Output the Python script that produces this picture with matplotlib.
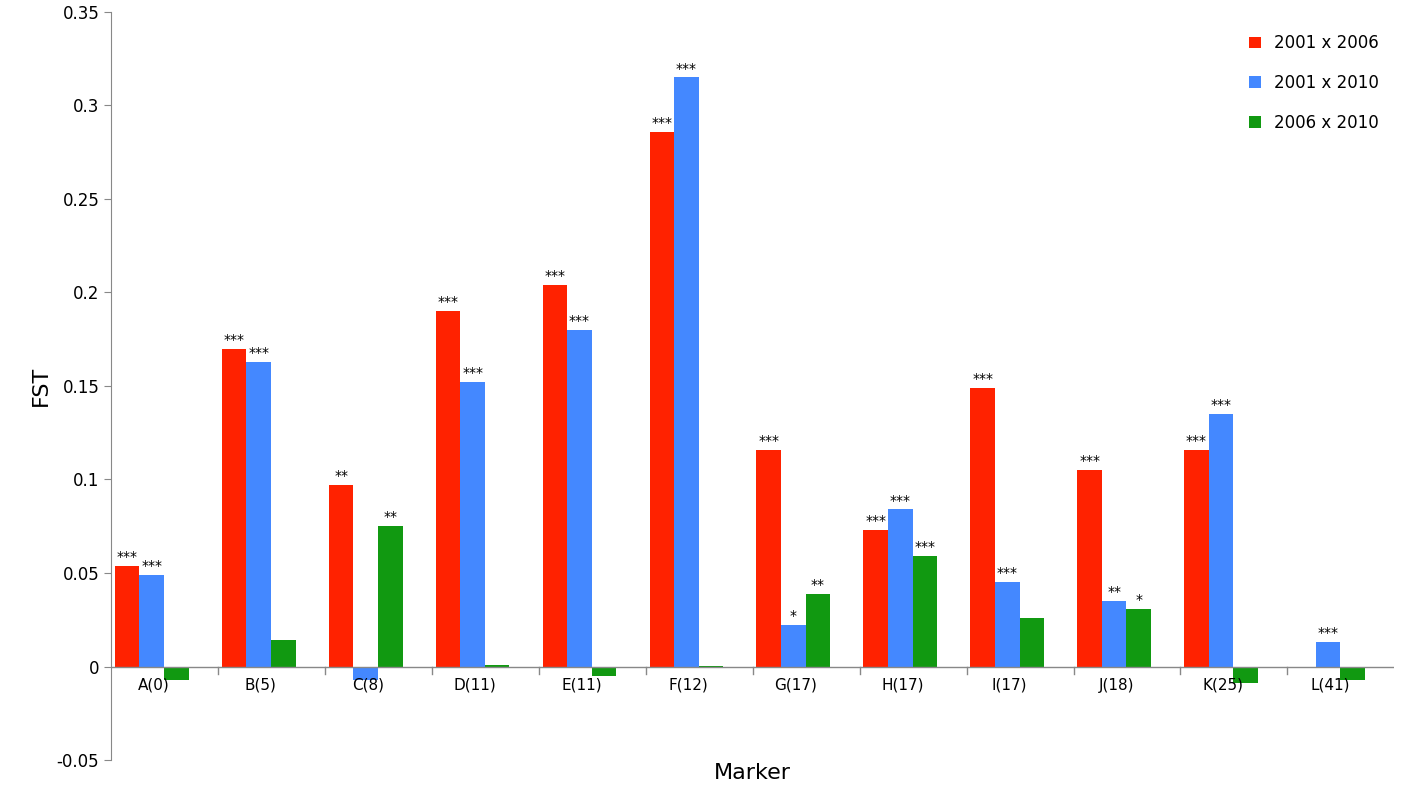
import matplotlib
matplotlib.use("Agg")
import matplotlib.pyplot as plt
import numpy as np

categories = ["A(0)", "B(5)", "C(8)", "D(11)", "E(11)", "F(12)", "G(17)", "H(17)", "I(17)", "J(18)", "K(25)", "L(41)"]
s1 = [0.054, 0.170, 0.097, 0.190, 0.204, 0.286, 0.116, 0.073, 0.149, 0.105, 0.116, -0.0005]
s2 = [0.049, 0.163, -0.007, 0.152, 0.180, 0.315, 0.022, 0.084, 0.045, 0.035, 0.135, 0.013]
s3 = [-0.007, 0.014, 0.075, 0.001, -0.005, 0.0003, 0.039, 0.059, 0.026, 0.031, -0.009, -0.007]
st1 = ["***", "***", "**", "***", "***", "***", "***", "***", "***", "***", "***", ""]
st2 = ["***", "***", "", "***", "***", "***", "*", "***", "***", "**", "***", "***"]
st3 = ["", "", "**", "", "", "", "**", "***", "", "*", "", ""]
names = ["2001 x 2006", "2001 x 2010", "2006 x 2010"]
colors = ["#ff2200", "#4488ff", "#119911"]

fig = plt.figure(figsize=(14.07, 8), dpi=100)
ax = fig.add_axes([0.079, 0.05, 0.912, 0.935])
x = np.arange(len(categories))
w = 0.23
for i, (vals, stars) in enumerate([(s1, st1), (s2, st2), (s3, st3)]):
    xs = x + (i - 1) * w - 0.12
    ax.bar(xs, vals, w, color=colors[i], label=names[i])
    for xx, v, s in zip(xs, vals, stars):
        if s:
            ax.text(xx, max(v, 0) + 0.001, s, ha="center", va="bottom", fontsize=10)
ax.set_xlim(-0.5, len(categories) - 0.5)
ax.set_ylim(-0.05, 0.35)
ax.set_yticks(np.arange(-0.05, 0.351, 0.05))
ax.set_yticklabels(["-0.05", "0", "0.05", "0.1", "0.15", "0.2", "0.25", "0.3", "0.35"], fontsize=12)
ax.set_xticks([])
for sp in ["top", "right", "bottom"]:
    ax.spines[sp].set_visible(False)
ax.spines["left"].set_color("#888888")
ax.tick_params(axis="y", color="#888888", length=5)
ax.axhline(0, color="#888888", lw=1)
for b in np.arange(0.5, len(categories) - 0.5, 1.0):
    ax.plot([b, b], [0, -0.004], color="#888888", lw=1)
for xx, c in zip(x, categories):
    ax.text(xx - 0.1, -0.006, c, ha="center", va="top", fontsize=11)
ax.set_ylabel("FST", fontsize=16)
ax.set_xlabel("Marker", fontsize=16, labelpad=2)
ax.legend(loc="upper right", frameon=False, fontsize=12, handlelength=0.7, handleheight=0.7,
          labelspacing=1.3, bbox_to_anchor=(1.0, 0.99))
fig.savefig("out.png", dpi=100)
